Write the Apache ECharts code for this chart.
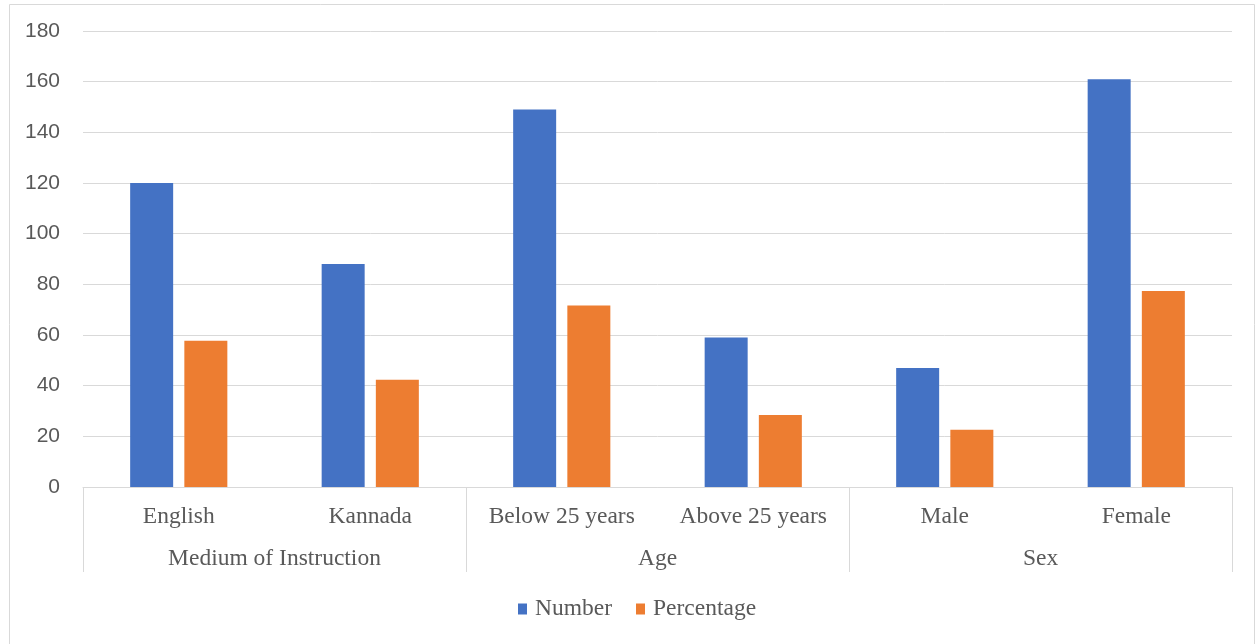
<!DOCTYPE html>
<html>
<head>
<meta charset="utf-8">
<script src="https://cdn.jsdelivr.net/npm/echarts@6/dist/echarts.min.js"></script>
<style>html,body{margin:0;padding:0;background:#fff}#c{width:1260px;height:644px}</style>
</head>
<body>
<div id="c"></div>
<script>
var categories = ["English", "Kannada", "Below 25 years", "Above 25 years", "Male", "Female"];
var groups = ["Medium of Instruction", "Age", "Sex"];
var numberValues = [120, 88, 149, 59, 47, 161];
var percentageValues = [57.7, 42.3, 71.6, 28.4, 22.6, 77.4];
var yTicks = { min: 0, max: 180, interval: 20 };

var chart = echarts.init(document.getElementById('c'), null, { renderer: 'canvas' });
var axisGray = '#d9d9d9';
var textGray = '#595959';
chart.setOption({
  animation: false,
  backgroundColor: '#fff',
  graphic: [{
    type: 'rect', left: 7, top: 2,
    shape: { width: 1245, height: 640 },
    style: { fill: 'none', stroke: '#d9d9d9', lineWidth: 1 },
    silent: true
  }],
  grid: { left: 83, right: 28, top: 31, bottom: 157, containLabel: false },
  legend: {
    data: ['Number', 'Percentage'],
    top: 592, left: 513,
    itemWidth: 9, itemHeight: 11, itemGap: 24,
    icon: 'rect',
    textStyle: { fontFamily: 'Liberation Serif', fontSize: 23.5, color: textGray, padding: [0, 0, 0, 3] }
  },
  xAxis: [{
    type: 'category',
    data: categories,
    position: 'bottom',
    axisLine: { show: true, lineStyle: { color: axisGray, width: 1 } },
    axisTick: { show: false },
    axisLabel: { interval: 0, margin: 18, fontFamily: 'Liberation Serif', fontSize: 23.5, color: textGray }
  }, {
    type: 'category',
    data: groups,
    position: 'bottom',
    axisLine: { show: false },
    axisTick: { show: true, length: 85, lineStyle: { color: axisGray, width: 1 } },
    axisLabel: { interval: 0, margin: 60, fontFamily: 'Liberation Serif', fontSize: 23.5, color: textGray }
  }],
  yAxis: {
    type: 'value',
    min: yTicks.min, max: yTicks.max, interval: yTicks.interval,
    axisLine: { show: false },
    axisTick: { show: false },
    splitLine: { lineStyle: { color: axisGray, width: 1 } },
    axisLabel: { margin: 23, fontFamily: 'Liberation Sans', fontSize: 21, color: textGray }
  },
  series: [{
    name: 'Number', type: 'bar', xAxisIndex: 0,
    data: numberValues,
    barWidth: 43, barGap: '26%',
    itemStyle: { color: '#4472c4' }
  }, {
    name: 'Percentage', type: 'bar', xAxisIndex: 0,
    data: percentageValues,
    barWidth: 43, barGap: '26%',
    itemStyle: { color: '#ed7d31' }
  }]
});
</script>
</body>
</html>
